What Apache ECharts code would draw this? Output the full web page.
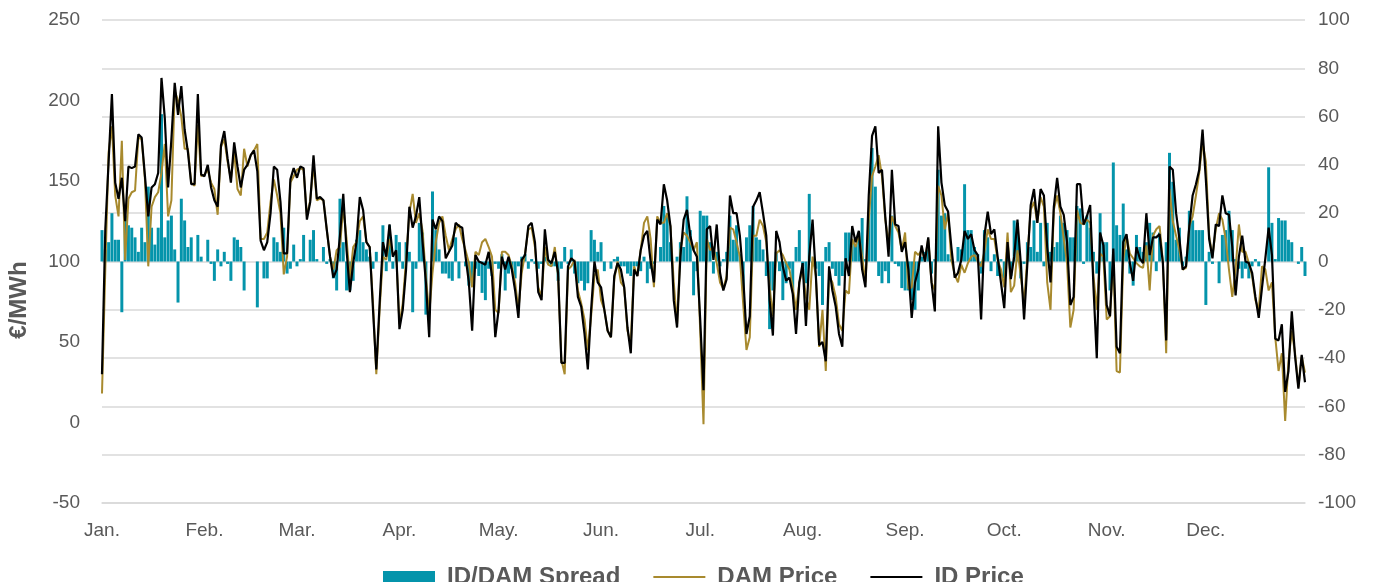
<!DOCTYPE html>
<html>
<head>
<meta charset="utf-8">
<script src="https://cdn.jsdelivr.net/npm/echarts@6/dist/echarts.min.js"></script>
<style>
    html, body { margin: 0; padding: 0; background: #fff; }
    #chart { width: 1387px; height: 582px; }
</style>
</head>
<body>
<div id="chart"></div>
<script>
var monthNames = ['Jan.', 'Feb.', 'Mar.', 'Apr.', 'May.', 'Jun.', 'Jul.', 'Aug.', 'Sep.', 'Oct.', 'Nov.', 'Dec.'];
var monthDays = [31, 28, 31, 30, 31, 30, 31, 31, 30, 31, 30, 31];

// ID/DAM spread, right axis
var spread = [
    13, 5, 8, 20, 9, 9, -21, 19, 15, 14,
    10, 4, 14, 8, 31, 14, 7, 14, 61, 10,
    17, 19, 5, -17, 26, 17, 6, 10, 0, 11,
    2, 0, 9, -1, -8, 5, -2, 4, -1, -8,
    10, 9, 6, -12, 0, 0, 0, -19, 0, -7,
    -7, 0, 10, 8, 4, 14, -5, -3, 7, -2,
    1, 11, 0, 9, 13, 1, 0, 6, -1, 1,
    -7, -12, 26, 8, -12, -12, -8, 9, 13, 8,
    5, 2, -3, 4, 0, 15, -4, 15, -3, 11,
    8, -3, 8, 4, -21, -3, 16, 12, -22, 0,
    29, 13, 5, -5, -5, -7, -8, 10, -7, 0,
    -2, -10, -9, -3, -6, -13, -16, -3, -6, -1,
    -3, 3, -12, -5, -3, -7, -2, 2, 3, -3,
    1, -1, -3, -1, 2, -1, -2, -2, -8, -3,
    6, -1, 5, -5, -9, -8, -12, -9, 13, 9,
    4, 8, -4, 0, -3, 1, 2, -2, -2, -5,
    -6, -2, -2, -4, 2, -9, -3, -1, 0, 6,
    23, 19, 8, 0, 2, 8, 6, 27, 13, -14,
    -4, 21, 19, 19, 8, -5, 4, -2, 1, 4,
    19, 9, 15, 3, -12, 10, 15, 23, 10, 9,
    5, -6, -28, -12, 4, -4, -16, -9, -3, -12,
    6, 13, -2, -9, 28, -2, -3, -6, -18, 6,
    8, -3, -6, -10, -6, 12, 12, 8, 7, 12,
    18, 1, 20, 47, 31, -6, -9, -4, -9, 19,
    -1, -2, -11, -12, -12, -16, -20, -12, 2, 4,
    5, -5, 1, 38, 19, 20, 3, 1, 0, 6,
    5, 32, 13, 13, 6, 3, -5, 13, 10, -4,
    3, -6, 1, -7, 3, -6, 17, 16, -7, -1,
    8, 6, 17, 4, 16, -2, 16, 4, 6, 8,
    19, 16, 13, 10, 10, 23, 22, -1, 19, 14,
    4, -5, 20, 8, 8, -12, 41, 15, 11, 24,
    5, -5, -10, 11, 6, 4, 8, 16, 12, -4,
    12, 0, 8, 45, 33, 9, 14, -2, 2, 21,
    17, 13, 13, 13, -18, 4, -1, 0, -9, 11,
    13, 21, 13, 1, -3, -7, -3, -7, -2, 1,
    -2, 0, 0, 39, 16, 1, 18, 17, 17, 9,
    8, 0, -1, 6, -6
];

// day-ahead price, left axis
var damPrice = [
    18, 95, 168, 184, 141, 128, 175, 101, 139, 143,
    144, 177, 176, 151, 97, 134, 140, 143, 155, 173,
    128, 138, 206, 200, 190, 170, 170, 149, 147, 185,
    153, 154, 157, 149, 145, 129, 171, 176, 162, 151,
    168, 145, 141, 170, 159, 166, 169, 173, 114, 114,
    118, 137, 151, 141, 130, 92, 103, 149, 153, 157,
    158, 157, 128, 138, 160, 138, 139, 138, 120, 103,
    95, 107, 109, 134, 114, 89, 109, 112, 125, 128,
    112, 109, 74, 30, 70, 103, 101, 114, 104, 106,
    61, 74, 101, 130, 142, 124, 130, 119, 91, 67,
    93, 112, 124, 128, 116, 107, 114, 120, 123, 114,
    107, 99, 84, 106, 104, 112, 114, 109, 103, 70,
    68, 106, 106, 104, 97, 87, 70, 93, 105, 120,
    121, 109, 84, 78, 109, 98, 97, 109, 91, 39,
    30, 95, 97, 101, 82, 74, 64, 45, 66, 91,
    95, 76, 70, 57, 53, 89, 100, 87, 84, 57,
    49, 97, 91, 107, 124, 128, 114, 84, 128, 124,
    124, 130, 122, 87, 61, 107, 118, 116, 112, 107,
    112, 57, -1, 114, 107, 109, 99, 87, 83, 91,
    121, 120, 112, 103, 74, 45, 53, 116, 116, 126,
    122, 112, 84, 66, 105, 107, 104, 99, 95, 84,
    70, 87, 95, 78, 70, 103, 91, 47, 70, 32,
    91, 87, 78, 61, 57, 82, 80, 114, 109, 117,
    103, 87, 126, 153, 159, 166, 153, 126, 112, 128,
    122, 118, 107, 118, 83, 84, 106, 104, 107, 101,
    114, 87, 82, 147, 141, 120, 130, 101, 92, 87,
    98, 93, 99, 103, 104, 100, 97, 106, 120, 114,
    114, 101, 95, 84, 118, 81, 85, 107, 91, 74,
    103, 132, 137, 124, 140, 134, 87, 70, 132, 141,
    130, 114, 99, 59, 70, 132, 124, 123, 126, 124,
    91, 70, 105, 103, 64, 66, 101, 32, 31, 101,
    116, 105, 102, 99, 97, 96, 110, 82, 116, 120,
    122, 100, 43, 145, 125, 116, 107, 95, 96, 122,
    128, 141, 155, 174, 162, 116, 103, 120, 130, 126,
    114, 95, 78, 95, 123, 106, 106, 99, 91, 76,
    70, 97, 95, 82, 87, 53, 32, 43, 1, 38,
    57, 43, 22, 41, 31
];

// intraday price, left axis
var idPrice = [
    30, 120, 162, 204, 149, 139, 152, 125, 159, 158,
    159, 179, 177, 153, 128, 146, 148, 155, 214, 189,
    146, 176, 211, 191, 209, 182, 168, 148, 148, 204,
    154, 153, 160, 146, 138, 134, 172, 181, 164, 149,
    174, 159, 146, 157, 160, 166, 169, 156, 113, 107,
    112, 130, 159, 157, 137, 105, 105, 151, 158, 152,
    159, 158, 126, 137, 166, 139, 140, 138, 120, 103,
    90, 95, 116, 142, 107, 81, 99, 112, 140, 132,
    112, 109, 70, 33, 74, 112, 103, 123, 103, 107,
    58, 70, 95, 134, 121, 128, 140, 112, 87, 53,
    126, 120, 128, 125, 102, 106, 110, 124, 122, 121,
    103, 87, 57, 104, 100, 99, 98, 106, 91, 53,
    70, 103, 95, 103, 95, 82, 65, 101, 104, 122,
    124, 112, 81, 76, 120, 101, 99, 106, 93, 37,
    37, 97, 102, 100, 78, 72, 55, 33, 70, 100,
    87, 84, 70, 57, 53, 91, 99, 95, 84, 59,
    43, 95, 91, 107, 116, 119, 100, 87, 126, 123,
    148, 138, 122, 76, 59, 103, 126, 132, 116, 107,
    103, 64, 20, 120, 122, 101, 123, 93, 82, 89,
    141, 130, 130, 116, 91, 55, 66, 134, 138, 143,
    130, 116, 76, 54, 119, 112, 97, 88, 90, 80,
    55, 87, 99, 60, 103, 126, 91, 48, 50, 38,
    97, 82, 72, 55, 47, 102, 91, 122, 112, 119,
    95, 84, 141, 178, 184, 155, 157, 128, 103, 157,
    123, 122, 106, 112, 95, 65, 87, 95, 110, 100,
    115, 87, 69, 184, 149, 135, 131, 109, 90, 93,
    101, 119, 114, 117, 107, 104, 64, 116, 131, 117,
    120, 103, 87, 71, 112, 89, 103, 126, 99, 64,
    99, 135, 145, 124, 145, 141, 109, 87, 134, 152,
    134, 129, 112, 73, 78, 148, 148, 123, 128, 135,
    84, 40, 118, 110, 73, 66, 108, 47, 43, 112,
    117, 99, 88, 109, 102, 99, 130, 104, 115, 115,
    117, 99, 51, 159, 157, 130, 114, 95, 97, 122,
    141, 148, 157, 182, 151, 114, 102, 123, 122, 141,
    130, 129, 109, 79, 103, 116, 100, 99, 93, 78,
    65, 84, 102, 121, 104, 52, 51, 61, 19, 32,
    69, 41, 21, 42, 25
];

// one category per day, label only on the 1st of each month
var days = [];
var monthStarts = [];
for (var m = 0; m < 12; m++) {
    monthStarts.push(days.length);
    for (var d = 1; d <= monthDays[m]; d++) {
        days.push(monthNames[m] + ' ' + d);
    }
}

var font = 'Liberation Sans, Arial, sans-serif';
var grey = '#595959';

var chart = echarts.init(document.getElementById('chart'));
var option = {
    animation: false,
    backgroundColor: '#fff',
    grid: { left: 102, right: 82, top: 20, bottom: 79 },
    legend: {
        left: 378,
        top: 560,
        itemWidth: 52,
        itemHeight: 12,
        itemGap: 32,
        textStyle: {
            color: grey,
            fontSize: 24,
            fontWeight: 'bold',
            fontFamily: font,
            padding: [0, 0, 0, 7]
        },
        data: [
            { name: 'ID/DAM Spread', icon: 'rect' },
            { name: 'DAM Price', itemStyle: { opacity: 0 } },
            { name: 'ID Price', itemStyle: { opacity: 0 } }
        ]
    },
    graphic: [{
        type: 'text',
        x: 19,
        y: 300,
        rotation: Math.PI / 2,
        style: {
            text: '€/MWh',
            fill: grey,
            font: 'bold 24px ' + font,
            textAlign: 'center',
            textVerticalAlign: 'middle'
        }
    }],
    xAxis: {
        type: 'category',
        data: days,
        boundaryGap: false,
        axisLine: { onZero: false, lineStyle: { color: '#d9d9d9', width: 1.5 } },
        axisTick: { show: false },
        axisLabel: {
            color: grey,
            fontSize: 19,
            fontFamily: font,
            margin: 18,
            interval: function (index) {
                return monthStarts.indexOf(index) >= 0;
            },
            formatter: function (value) {
                return value.split(' ')[0];
            }
        },
        splitLine: { show: false }
    },
    yAxis: [
        {
            type: 'value',
            min: -50,
            max: 250,
            interval: 50,
            axisLine: { show: false },
            axisTick: { show: false },
            axisLabel: { color: grey, fontSize: 19, fontFamily: font, margin: 22 },
            splitLine: { show: false }
        },
        {
            type: 'value',
            min: -100,
            max: 100,
            interval: 20,
            axisLine: { show: false },
            axisTick: { show: false },
            axisLabel: { color: grey, fontSize: 19, fontFamily: font, margin: 13 },
            splitLine: { show: true, lineStyle: { color: '#d9d9d9', width: 1.5 } }
        }
    ],
    series: [
        {
            name: 'ID/DAM Spread',
            type: 'bar',
            yAxisIndex: 1,
            data: spread,
            barCategoryGap: '10%',
            itemStyle: { color: '#0494ab' }
        },
        {
            name: 'DAM Price',
            type: 'line',
            yAxisIndex: 0,
            data: damPrice,
            symbol: 'none',
            lineStyle: { color: '#a88a2e', width: 2 },
            itemStyle: { color: '#a88a2e' }
        },
        {
            name: 'ID Price',
            type: 'line',
            yAxisIndex: 0,
            data: idPrice,
            symbol: 'none',
            lineStyle: { color: '#000', width: 2.2 },
            itemStyle: { color: '#000' }
        }
    ]
};
chart.setOption(option);
</script>
</body>
</html>
